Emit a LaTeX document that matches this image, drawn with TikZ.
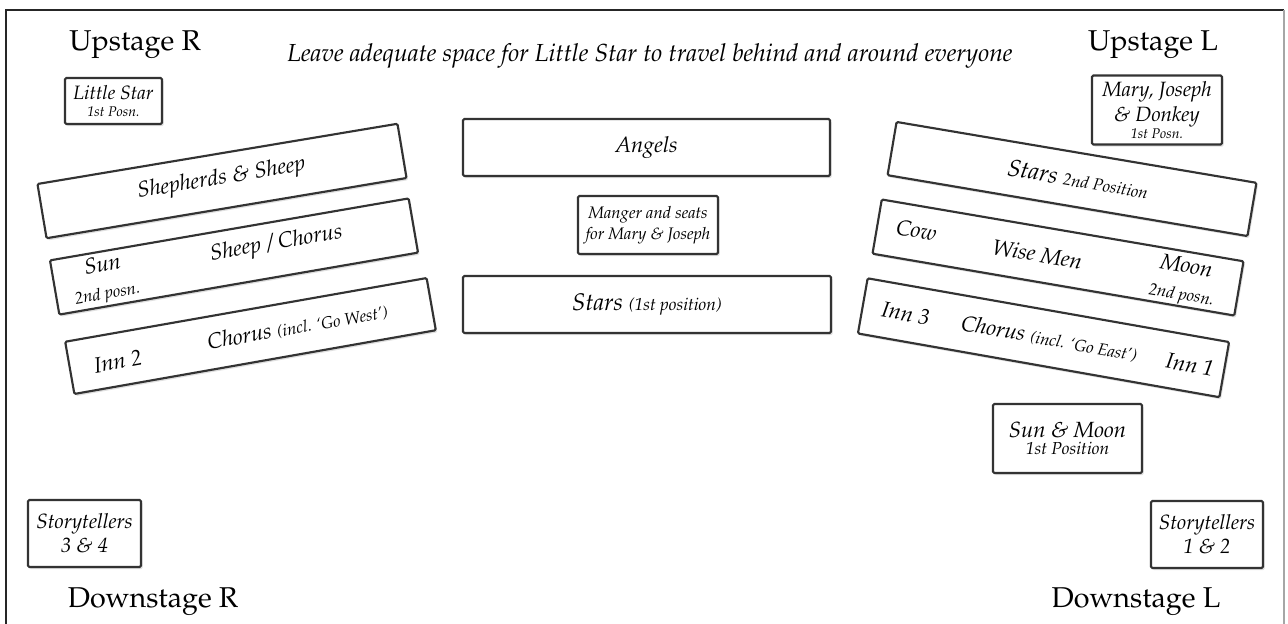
\documentclass[tikz,border=0pt]{standalone}
\usepackage[T1]{fontenc}
\usepackage{mathpazo}
\usetikzlibrary{shadows}

\newcommand{\fsz}[1]{\fontsize{#1}{#1}\selectfont}

\tikzset{
  part/.style={draw=black!80,line width=1.6pt,fill=white,rounded corners=1pt,
    drop shadow={shadow xshift=1.2pt,shadow yshift=-1.6pt,opacity=0.25},
    inner sep=0pt,align=center,font=\itshape},
  boxsize/.style 2 args={minimum width=#1*0.75pt,minimum height=#2*0.75pt},
  who/.style={inner sep=0pt,align=center,font=\fsz{16.5}\itshape},
  corner/.style={inner sep=0pt,font=\fsz{21.5}},
}

\begin{document}
\begin{tikzpicture}[x=0.75pt,y=-0.75pt]
\useasboundingbox (0,0) rectangle (1288,624);
% stage outline
\draw[black!85,line width=2.2pt] (6,640) -- (6,10) -- (1284,10);
\draw[black!35,line width=0.8pt] (1284,10) -- (1284,640);

% corners
\node[corner] (upR) at (135,45) {Upstage R};
\node[corner] (upL) at (1153,45) {Upstage L};
\node[corner] (downR) at (153,602) {Downstage R};
\node[corner] (downL) at (1136,602) {Downstage L};
\node[inner sep=0pt,font=\fsz{18.5}\itshape] (note) at (650,56)
  {Leave adequate space for Little Star to travel behind and around everyone};

% small boxes
\begin{scope}[every node/.style={part}]
  \node[boxsize={97}{46}] (star1) at (113.5,101)
    {\fsz{14.5}Little Star\\[1pt]\fsz{10.5}1st Posn.};
  \node[boxsize={130}{69}] (mary1) at (1157,110)
    {\fsz{15.5}Mary, Joseph\\[2pt]\fsz{15.5}\& Donkey\\[1pt]\fsz{10.5}1st Posn.};
  \node[boxsize={367}{57}] (angels) at (646.5,147.5) {\fsz{16.5}Angels};
  \node[boxsize={140}{58}] (manger) at (648,225)
    {\fsz{12.5}Manger and seats\\[2pt]\fsz{12.5}for Mary \& Joseph};
  \node[boxsize={368}{57}] (stars1) at (647,304.5)
    {\fsz{18}Stars \fsz{13}(1st position)};
  \node[boxsize={149}{69}] (sunmoon) at (1067.5,438.5)
    {\fsz{16.5}Sun \& Moon\\[1pt]\fsz{13}1st Position};
  \node[boxsize={113}{67}] (tell34) at (84.5,533.5)
    {\fsz{15.5}Storytellers\\[2pt]\fsz{15.5}3 \& 4};
  \node[boxsize={112}{67}] (tell12) at (1207,534.5)
    {\fsz{15.5}Storytellers\\[2pt]\fsz{15.5}1 \& 2};
\end{scope}

% rows stage right
\begin{scope}[shift={(222,181)},rotate=9.5,transform shape]
  \node[part,boxsize={365}{55}] (shep) at (0,0) {};
  \node[who] (shepT) at (0,-2) {Shepherds \& Sheep};
\end{scope}
\begin{scope}[shift={(234,256.5)},rotate=9.8,transform shape]
  \node[part,boxsize={364}{55}] (sheep) at (0,0) {};
  \node[who] (sun2) at (-131,1) {Sun\\[4pt]\fsz{12.5}2nd posn.};
  \node[who] (sheepT) at (44,-5) {Sheep / Chorus};
\end{scope}
\begin{scope}[shift={(250.5,336)},rotate=10,transform shape]
  \node[part,boxsize={367}{53}] (west) at (0,0) {};
  \node[who] (inn2) at (-135,2) {Inn 2};
  \node[who] (westT) at (48,-1) {Chorus \fsz{12.5}(incl. `Go West')};
\end{scope}

% rows stage left
\begin{scope}[shift={(1072,179)},rotate=-9.6,transform shape]
  \node[part,boxsize={365}{54}] (stars2) at (0,0) {};
  \node[who] (stars2T) at (6,-1) {\fsz{18}Stars \fsz{12.5}2nd Position};
\end{scope}
\begin{scope}[shift={(1058,257.5)},rotate=-9.7,transform shape]
  \node[part,boxsize={367}{55}] (wise) at (0,0) {};
  \node[who] (cow) at (-144,-3) {Cow};
  \node[who] (wiseT) at (-21,0) {Wise Men};
  \node[who] (moon2) at (128,2) {Moon\\[4pt]\fsz{12.5}2nd posn.};
\end{scope}
\begin{scope}[shift={(1043.5,337.75)},rotate=-10,transform shape]
  \node[part,boxsize={367}{56}] (east) at (0,0) {};
  \node[who] (inn3) at (-140,0) {Inn 3};
  \node[who] (eastT) at (6,0) {Chorus \fsz{12.5}(incl. `Go East')};
  \node[who] (inn1) at (149,1) {Inn 1};
\end{scope}
\end{tikzpicture}
\end{document}
